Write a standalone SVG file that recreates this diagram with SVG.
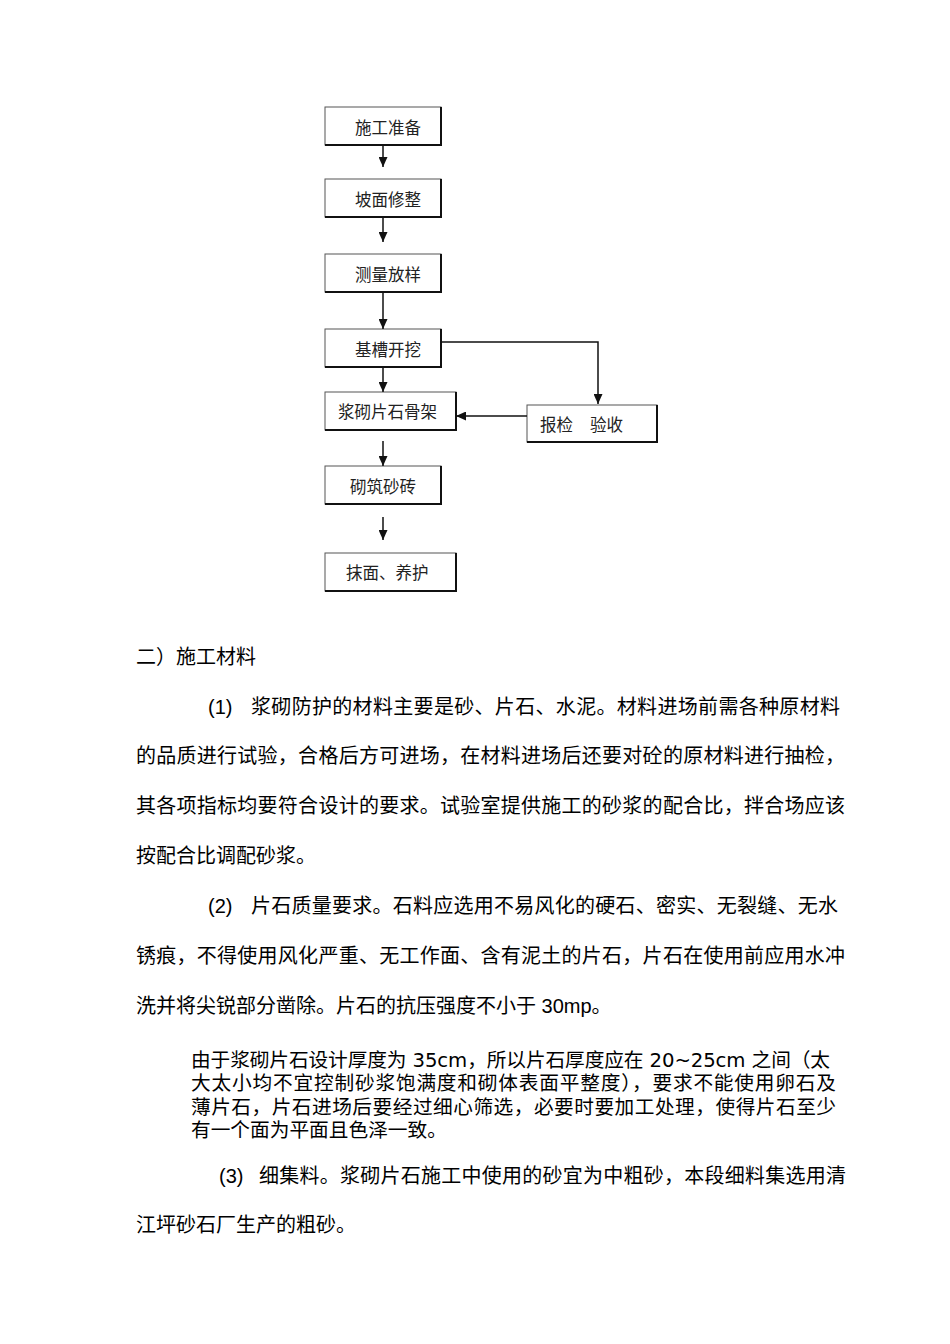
<svg xmlns="http://www.w3.org/2000/svg" width="950" height="1344" viewBox="0 0 950 1344">
<style>
.box{fill:#fff;stroke:#555;stroke-width:1}
.sh{stroke:#111;stroke-width:2;fill:none}
.ft{font-family:"Liberation Serif","Noto Sans CJK SC",serif;font-size:16.5px;fill:#222}
.ln{stroke:#111;stroke-width:1.5;fill:none}
.bt{font-family:"Liberation Sans","Noto Sans CJK SC",sans-serif;font-size:20px;fill:#000}
.bk{font-family:"DejaVu Sans","Noto Sans CJK SC",sans-serif;font-size:19.7px;fill:#000}
</style>
<defs>
<marker id="ah" markerUnits="userSpaceOnUse" markerWidth="10" markerHeight="9" viewBox="0 0 10 9" refX="10" refY="4.5" orient="auto">
<path d="M0,0 L10,4.5 L0,9 z" fill="#111"/>
</marker>
</defs>
<rect width="950" height="1344" fill="#fff"/>

<g id="n1"><rect class="box" x="325" y="107" width="116" height="38"/><path class="sh" d="M325,145 H441 V107"/><text class="ft" x="355" y="134">施工准备</text></g>
<g id="n2"><rect class="box" x="325" y="179" width="116" height="38"/><path class="sh" d="M325,217 H441 V179"/><text class="ft" x="355" y="206">坡面修整</text></g>
<g id="n3"><rect class="box" x="325" y="254" width="116" height="38"/><path class="sh" d="M325,292 H441 V254"/><text class="ft" x="355" y="281">测量放样</text></g>
<g id="n4"><rect class="box" x="325" y="329" width="116" height="38"/><path class="sh" d="M325,367 H441 V329"/><text class="ft" x="355" y="356">基槽开挖</text></g>
<g id="n5"><rect class="box" x="325" y="392" width="131" height="38"/><path class="sh" d="M325,430 H456 V392"/><text class="ft" x="338" y="418">浆砌片石骨架</text></g>
<g id="n6"><rect class="box" x="527" y="405" width="130" height="37"/><path class="sh" d="M527,442 H657 V405"/><text class="ft" x="540" y="431">报检</text><text class="ft" x="590" y="431">验收</text></g>
<g id="n7"><rect class="box" x="325" y="466" width="116" height="38"/><path class="sh" d="M325,504 H441 V466"/><text class="ft" x="350" y="493">砌筑砂砖</text></g>
<g id="n8"><rect class="box" x="325" y="553" width="131" height="38"/><path class="sh" d="M325,591 H456 V553"/><text class="ft" x="346" y="579">抹面、养护</text></g>

<g id="connectors">
<path class="ln" d="M383,146 V167" marker-end="url(#ah)"/>
<path class="ln" d="M383,218 V242" marker-end="url(#ah)"/>
<path class="ln" d="M383,293 V329" marker-end="url(#ah)"/>
<path class="ln" d="M383,368 V392" marker-end="url(#ah)"/>
<path class="ln" d="M383,441 V466" marker-end="url(#ah)"/>
<path class="ln" d="M383,517 V540" marker-end="url(#ah)"/>
<path class="ln" d="M441,342 H598 V404" marker-end="url(#ah)"/>
<path class="ln" d="M527,416 H456" marker-end="url(#ah)"/>
</g>

<g id="text">
<text class="bt" x="136" y="664">二）施工材料</text>
<text class="bt" x="208" y="714">(1)</text>
<text class="bt" x="251" y="714" textLength="589" lengthAdjust="spacing">浆砌防护的材料主要是砂、片石、水泥。材料进场前需各种原材料</text>
<text class="bt" x="136" y="763" textLength="709" lengthAdjust="spacing">的品质进行试验，合格后方可进场，在材料进场后还要对砼的原材料进行抽检，</text>
<text class="bt" x="136" y="813" textLength="709" lengthAdjust="spacing">其各项指标均要符合设计的要求。试验室提供施工的砂浆的配合比，拌合场应该</text>
<text class="bt" x="136" y="863">按配合比调配砂浆。</text>
<text class="bt" x="208" y="913">(2)</text>
<text class="bt" x="251" y="913" textLength="587" lengthAdjust="spacing">片石质量要求。石料应选用不易风化的硬石、密实、无裂缝、无水</text>
<text class="bt" x="136" y="963" textLength="709" lengthAdjust="spacing">锈痕，不得使用风化严重、无工作面、含有泥土的片石，片石在使用前应用水冲</text>
<text class="bt" x="136" y="1013">洗并将尖锐部分凿除。片石的抗压强度不小于 30mp。</text>
<text class="bk" x="191" y="1067" textLength="639" lengthAdjust="spacing">由于浆砌片石设计厚度为 35cm，所以片石厚度应在 20~25cm 之间（太</text>
<text class="bk" x="191" y="1090" textLength="645" lengthAdjust="spacing">大太小均不宜控制砂浆饱满度和砌体表面平整度），要求不能使用卵石及</text>
<text class="bk" x="191" y="1114" textLength="645" lengthAdjust="spacing">薄片石，片石进场后要经过细心筛选，必要时要加工处理，使得片石至少</text>
<text class="bk" x="191" y="1137">有一个面为平面且色泽一致。</text>
<text class="bt" x="219" y="1183">(3)</text>
<text class="bt" x="259" y="1183" textLength="587" lengthAdjust="spacing">细集料。浆砌片石施工中使用的砂宜为中粗砂，本段细料集选用清</text>
<text class="bt" x="136" y="1232">江坪砂石厂生产的粗砂。</text>
</g>
</svg>
